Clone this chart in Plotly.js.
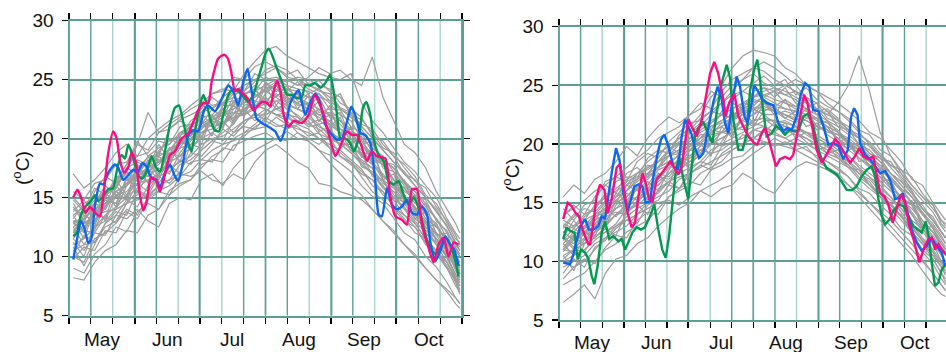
<!DOCTYPE html>
<html><head><meta charset="utf-8">
<script src="https://cdn.plot.ly/plotly-3.0.1.min.js"></script>
<style>html,body{margin:0;padding:0;background:#fff}#chart{width:946px;height:352px}</style>
</head><body><div id="chart"></div>
<script>
// x values are days counted from 1 May (0 = 1 May, 184 = 1 Nov)
const monthNames = ['May','Jun','Jul','Aug','Sep','Oct'];
const monthBounds = [0,31,61,92,123,153,184];
const yTicks = [5,10,15,20,25,30];

const greyDays = [2,7,12,17,22,27,32,37,42,47,52,57,62,67,72,77,82,87,92,97,102,107,112,117,122,127,132,137,142,147,152,157,162,167,172,177,181,183];

// left panel, grey years
const greyL1 = [15.5,14.8,16.2,16.5,17.8,18.0,19.5,19.0,20.5,21.2,21.8,22.5,23.0,23.8,24.0,25.2,25.0,26.1,26.5,26.0,25.4,25.8,24.6,24.9,24.0,23.5,22.0,21.6,20.5,19.2,18.8,17.5,16.4,15.8,14.2,13.0,11.8,11.0];
const greyL2 = [9.0,8.6,10.2,11.0,12.5,12.1,13.8,14.5,14.0,15.6,16.2,16.5,17.8,18.2,18.0,19.4,19.8,20.2,20.5,19.9,20.6,20.0,19.8,19.0,18.6,17.9,17.2,16.0,15.1,14.5,13.2,12.0,11.4,10.0,9.1,7.8,6.5,6.0];
const greyL3 = [13.0,11.5,14.0,13.2,16.0,15.0,17.8,16.2,18.5,17.6,20.0,19.0,21.5,20.2,22.6,21.4,23.5,22.2,24.5,22.8,24.0,22.5,23.6,21.4,22.8,20.2,21.0,18.4,19.2,16.5,17.0,14.6,15.2,12.4,12.8,10.2,10.0,8.5];
const greyL4 = [14.0,13.6,14.8,15.5,16.2,17.0,17.5,18.4,18.0,19.2,19.5,20.6,20.8,21.5,21.0,22.2,22.0,22.8,22.5,22.0,21.8,21.2,21.5,20.4,20.0,19.6,18.8,17.8,17.0,15.8,15.0,14.2,13.0,12.0,11.0,9.5,8.2,7.5];
const greyL5 = [10.5,11.0,11.2,12.5,13.0,14.5,14.8,15.2,16.0,16.5,17.8,18.2,19.0,19.8,20.5,21.2,22.5,23.5,24.2,24.8,25.0,24.5,24.6,24.0,23.8,22.6,22.2,21.0,20.1,19.0,18.0,17.2,16.0,15.0,13.8,12.6,11.0,10.5];
const greyL6 = [12.0,13.5,13.0,15.0,16.5,17.2,19.5,22.2,20.5,20.8,21.6,22.0,22.5,23.8,24.2,24.0,25.5,26.5,27.5,27.8,27.0,26.5,26.0,25.5,25.2,25.0,25.5,23.0,21.5,20.5,19.2,18.0,17.2,16.0,15.0,13.2,12.0,11.5];
const greyL7 = [10.0,9.5,11.5,12.0,12.8,14.0,13.5,15.0,15.6,16.0,16.8,18.0,18.2,19.0,19.5,19.8,20.2,21.0,21.5,21.0,21.2,20.8,20.5,20.0,19.5,19.0,18.2,17.4,16.0,15.5,14.2,13.5,12.5,11.0,10.2,9.0,7.5,7.0];
const greyL8 = [13.5,14.2,13.8,15.2,15.8,17.5,17.0,18.5,19.2,19.5,20.5,21.0,21.8,22.0,23.0,23.2,23.6,24.5,24.0,24.6,24.2,24.0,23.5,23.8,22.5,22.4,21.0,20.5,19.6,18.2,17.5,16.4,15.5,14.5,13.2,11.5,10.5,10.0];
const greyL9 = [11.5,10.5,12.0,11.8,13.5,13.2,14.0,13.0,12.5,14.5,15.0,14.8,16.5,17.0,16.0,17.5,18.5,19.0,19.5,20.0,19.8,20.5,20.0,19.5,20.2,18.5,18.0,16.8,15.5,14.8,14.0,13.0,12.5,11.2,10.5,9.0,8.0,7.2];
const greyL10 = [12.8,13.0,14.5,15.5,16.0,17.5,18.0,17.6,19.0,19.8,20.2,21.5,22.2,22.6,23.0,24.0,24.5,25.0,25.5,26.0,25.2,25.0,24.2,23.8,23.0,22.0,21.5,20.0,19.2,18.5,17.2,16.0,15.0,14.0,12.5,11.5,10.2,9.5];
const greyL11 = [12.0,12.2,12.0,13.5,14.2,15.0,15.8,16.5,16.2,17.5,18.0,18.5,19.5,20.0,20.2,20.8,21.5,21.8,22.5,22.0,22.2,21.5,21.8,21.0,20.5,20.0,19.0,18.2,17.5,16.2,15.5,14.5,13.2,12.5,11.0,10.0,8.5,8.0];
const greyL12 = [13.5,12.0,14.0,14.8,14.5,16.5,16.0,17.8,17.0,18.8,19.2,20.5,20.0,21.8,21.2,22.8,22.0,23.8,23.0,24.2,23.5,23.0,23.8,22.2,22.5,21.5,20.8,19.8,18.6,18.0,16.5,15.8,14.5,13.8,12.0,11.2,9.8,9.2];
const greyL13 = [11.0,11.5,12.5,13.0,14.0,14.5,15.5,15.0,16.0,16.5,17.0,16.8,17.2,16.5,16.2,17.0,16.5,18.0,19.0,19.5,18.8,18.0,17.5,16.2,16.0,15.5,15.2,14.8,14.0,13.0,12.2,11.0,10.2,9.0,8.0,7.2,6.5,6.0];
const greyL14 = [12.5,13.2,14.0,14.5,15.5,16.0,16.8,17.5,18.2,18.0,19.2,19.5,20.5,21.2,21.0,22.5,23.0,23.5,24.2,24.5,25.0,24.5,25.2,26.0,25.5,25.8,25.0,24.5,26.9,23.5,21.5,19.5,18.8,17.5,15.5,14.0,12.8,12.0];
const greyL15 = [8.2,8.0,9.5,10.5,11.0,12.2,12.0,13.5,14.0,15.2,16.0,16.5,17.5,18.5,19.0,20.0,20.5,21.2,22.0,22.5,22.0,21.8,21.2,20.8,20.0,19.5,18.8,18.0,17.0,16.0,15.0,14.0,12.8,11.5,10.5,9.2,7.8,6.8];
const greyL16 = [17.0,15.8,16.5,17.5,18.8,19.5,18.5,20.0,20.8,21.5,22.0,22.8,23.5,22.8,23.0,23.5,24.5,25.0,24.8,24.0,24.2,23.5,23.0,22.5,22.0,21.5,20.5,19.5,18.5,17.8,16.5,15.2,14.2,13.0,12.0,10.8,9.5,9.0];
const greyL17 = [12.2,13.0,12.8,14.2,15.2,15.5,16.5,17.2,18.0,18.5,19.5,20.0,21.0,21.5,22.2,22.5,23.0,23.6,24.0,23.5,22.8,22.5,22.2,21.8,21.2,20.5,19.5,18.5,17.8,16.8,16.0,15.2,14.0,13.0,11.8,10.5,9.0,8.5];
const greyL18 = [13.0,12.8,13.5,14.5,15.0,16.2,17.0,17.5,18.0,19.0,19.5,20.5,21.0,21.6,22.0,22.2,22.5,22.8,22.5,22.0,21.5,20.5,19.8,19.0,18.0,17.0,16.0,15.2,14.0,13.0,12.0,11.0,10.0,9.0,8.0,7.0,6.0,5.6];
const greyL19 = [14.5,13.0,14.5,14.0,15.5,16.2,17.2,18.0,18.5,19.0,20.2,21.0,21.2,21.8,22.5,23.0,23.8,24.0,24.5,25.0,24.5,24.2,24.0,23.5,23.2,22.5,21.8,21.0,20.0,19.0,18.0,17.0,16.0,15.0,14.0,12.5,11.2,10.8];
const greyL20 = [11.8,12.5,13.5,14.8,14.5,15.2,16.2,16.5,17.0,18.0,18.5,19.2,20.0,20.5,21.2,21.8,22.0,22.5,23.0,23.2,23.5,23.0,22.5,22.0,21.5,20.8,20.0,19.0,18.0,17.0,16.0,15.0,14.0,12.8,11.5,10.5,9.0,8.5];
const greyL21 = [12.0,13.8,12.5,15.5,14.2,16.8,15.5,18.0,16.8,19.2,18.0,20.8,19.5,22.0,20.8,23.2,21.8,24.2,22.8,24.5,23.0,24.0,22.2,23.2,21.0,21.8,19.5,20.2,17.8,18.5,16.0,16.5,14.0,14.5,11.8,12.0,9.8,9.2];
const greyL22 = [14.2,12.8,13.0,14.2,16.5,15.2,16.8,18.2,17.2,18.0,20.2,19.0,21.5,21.0,22.5,21.6,23.5,22.5,23.8,24.6,23.2,23.8,21.8,22.5,21.2,20.5,20.8,18.6,18.8,16.8,16.2,15.2,13.2,13.8,11.2,10.5,8.8,8.2];
const greyL23 = [10.2,11.8,11.2,12.8,13.8,13.5,15.6,15.2,16.8,16.2,17.2,18.8,18.5,19.5,20.8,20.2,21.2,22.2,21.5,22.8,22.0,21.2,22.4,20.6,21.0,19.2,19.8,17.6,17.2,16.4,15.0,14.6,13.5,12.2,11.5,9.8,8.5,7.8];
const greyL24 = [13.2,14.5,15.0,14.0,15.8,17.2,16.0,17.5,19.5,18.2,19.8,20.2,22.0,21.2,21.8,23.5,22.5,23.0,24.8,23.5,24.5,23.2,22.8,23.5,21.8,22.2,20.0,19.5,19.8,17.5,17.2,15.5,15.0,13.5,12.8,11.0,10.0,9.2];
const greyL25 = [11.2,10.0,12.5,13.5,12.8,14.5,16.2,15.5,17.0,17.8,17.0,19.5,19.2,20.5,19.8,21.5,22.5,21.5,22.2,23.2,22.5,22.0,21.2,21.6,20.8,19.8,19.2,18.8,16.8,16.5,15.2,14.0,13.8,12.0,11.2,10.2,8.2,7.5];
const greyL26 = [12.8,12.2,14.2,13.0,15.2,14.8,16.8,17.5,16.5,18.5,19.8,19.2,20.2,21.8,22.2,21.2,22.8,23.2,22.8,23.6,24.0,22.8,23.0,22.0,22.2,20.8,20.5,19.5,18.2,17.8,16.5,15.8,14.8,13.2,12.5,11.5,10.0,9.5];
const greyL27 = [14.8,13.8,14.5,16.0,15.2,16.0,18.2,17.8,18.8,18.5,20.5,20.2,21.2,22.5,21.8,22.8,23.8,24.2,23.2,23.8,23.0,23.5,22.8,21.5,22.0,21.2,20.2,20.5,18.8,18.0,17.8,16.2,15.2,14.8,13.0,12.2,10.8,10.0];
const greyL28 = [9.8,10.8,10.5,12.2,12.0,13.8,13.2,14.8,15.5,15.2,16.8,17.2,18.2,18.0,19.2,19.0,20.5,20.8,21.0,21.8,21.2,21.0,20.2,20.5,19.2,18.8,18.0,17.2,16.5,15.2,14.8,13.5,12.8,11.5,10.5,9.5,8.0,7.0];
const greyL29 = [13.8,14.8,13.5,15.0,16.8,16.5,17.2,16.8,18.8,20.0,19.5,21.2,21.5,21.0,22.8,22.8,22.2,24.0,25.2,24.8,24.0,24.8,23.8,24.2,23.2,23.8,22.0,21.2,20.8,19.5,18.5,17.8,16.8,15.2,14.5,12.8,11.5,11.2];
const greyL30 = [11.5,12.8,13.5,13.8,14.0,16.0,17.0,16.8,17.5,17.0,18.8,20.0,20.5,20.8,21.5,20.5,21.5,22.0,22.0,22.5,22.8,21.8,21.0,21.2,20.2,19.5,19.5,18.0,17.5,15.8,15.5,14.8,13.8,12.5,11.5,10.8,9.2,8.8];
const greyL31 = [12.5,11.0,12.2,14.5,15.5,14.8,15.2,17.2,17.8,18.8,18.5,19.8,20.8,21.8,21.2,22.0,23.8,22.8,23.5,22.5,23.0,22.5,22.0,21.2,21.5,20.5,19.0,18.8,18.0,16.5,15.8,14.8,14.2,12.8,11.5,10.0,9.2,8.8];
const greyL32 = [15.0,14.0,15.8,15.2,16.5,17.8,18.5,18.8,19.8,19.5,21.0,21.2,22.2,23.5,22.8,23.8,24.0,25.5,25.0,25.2,24.8,25.2,25.0,24.5,24.2,23.0,22.5,21.8,20.2,19.8,18.5,17.0,16.5,15.0,13.8,12.5,11.2,10.5];
const greyL33 = [10.8,9.2,11.0,12.8,13.5,14.8,14.2,16.0,16.8,17.2,18.2,17.8,19.0,19.8,19.5,20.5,21.0,20.8,21.8,21.2,20.8,21.2,20.8,20.0,19.2,18.5,17.8,17.0,16.5,15.5,14.2,13.2,12.0,11.5,10.2,9.5,8.2,7.8];
const greyL34 = [13.0,13.2,15.5,16.8,16.2,17.8,19.8,18.5,18.5,20.8,21.5,20.8,22.8,22.5,23.5,24.2,24.0,24.8,25.8,26.2,25.8,25.0,24.5,24.2,23.5,22.5,22.0,20.8,19.5,18.2,17.5,16.2,15.5,14.2,13.2,12.0,10.8,10.2];

// right panel, grey years
const greyR1 = [15.5,16.5,15.8,17.0,17.5,18.5,19.8,19.0,20.5,21.5,22.3,21.8,22.5,23.0,24.5,24.0,25.0,25.5,26.0,25.2,24.8,24.5,24.0,23.5,23.0,22.5,22.0,21.2,20.0,19.5,18.5,17.5,16.5,15.5,14.0,13.0,12.0,11.5];
const greyR2 = [6.5,7.2,8.0,6.8,9.0,10.2,10.5,11.5,12.0,13.0,13.8,14.5,15.0,16.0,16.5,17.0,17.8,18.5,19.2,19.8,20.5,20.0,20.5,20.0,19.5,19.0,18.5,18.0,17.0,16.2,15.5,14.5,13.5,12.5,11.0,10.2,9.0,8.5];
const greyR3 = [12.0,11.5,13.0,14.0,14.5,15.2,16.0,17.5,18.0,18.5,19.5,20.5,21.5,22.5,24.0,25.0,26.5,27.5,28.0,27.8,27.5,26.5,26.0,25.0,24.5,23.5,22.8,22.0,21.0,20.0,19.0,18.0,17.0,16.0,14.5,13.5,12.5,12.0];
const greyR4 = [11.0,12.0,12.5,13.5,14.0,15.0,15.5,16.5,17.0,18.0,18.5,19.0,19.5,20.5,21.0,21.5,22.0,22.5,23.0,23.2,22.8,22.5,22.0,22.5,23.0,22.5,23.5,25.0,27.5,24.5,21.0,19.0,17.5,16.0,14.5,13.5,12.5,12.0];
const greyR5 = [10.0,10.5,11.0,11.8,12.5,13.0,13.5,14.0,14.5,15.0,15.2,14.8,15.5,16.0,15.5,16.2,16.5,17.5,17.0,16.2,15.8,17.0,18.0,18.5,18.2,17.8,17.2,16.5,15.8,15.0,14.2,13.5,12.5,11.5,10.2,9.0,8.0,7.5];
const greyR6 = [12.5,11.8,13.0,13.5,14.8,15.0,16.5,16.0,17.5,18.0,19.0,19.2,20.0,20.5,21.5,22.0,22.5,23.0,23.5,24.0,23.5,23.0,22.8,22.5,22.0,21.5,21.0,20.0,19.5,18.5,17.8,17.0,16.0,15.0,13.5,12.5,11.5,11.0];
const greyR7 = [9.5,10.0,10.5,11.5,12.0,13.0,13.8,14.5,15.0,16.0,16.8,17.5,18.0,18.5,19.5,20.0,20.5,21.0,21.5,22.0,22.0,21.8,21.5,21.0,20.8,20.2,19.5,19.0,18.0,17.2,16.5,15.5,14.2,13.0,11.8,10.5,9.5,9.0];
const greyR8 = [14.0,14.5,15.2,16.0,16.5,17.2,18.0,18.8,19.5,20.5,21.0,21.5,22.5,23.5,23.0,24.5,25.5,26.0,26.5,26.2,25.5,25.0,24.5,24.0,23.5,22.8,22.0,21.5,20.5,19.8,19.0,18.2,17.5,16.5,15.5,14.5,13.5,13.0];
const greyR9 = [11.0,12.0,11.5,12.5,13.2,14.0,14.5,15.5,16.0,16.5,17.5,18.0,19.0,19.5,20.0,21.0,21.2,22.0,22.5,23.0,22.8,22.5,22.0,22.5,21.5,21.0,20.8,20.0,19.2,18.2,17.5,16.5,15.5,14.0,12.8,11.8,10.5,10.0];
const greyR10 = [13.0,12.5,13.5,14.0,15.0,15.5,16.0,17.0,18.0,18.5,19.0,20.0,20.5,21.5,22.0,22.5,23.0,23.5,24.0,24.5,24.8,24.2,23.8,23.0,22.5,22.0,21.5,20.8,20.0,19.2,18.5,17.5,16.8,15.8,14.8,13.5,12.5,12.0];
const greyR11 = [12.0,11.0,12.0,13.0,13.5,14.5,15.0,15.5,16.5,17.0,18.0,18.5,18.8,19.5,20.0,20.5,21.0,21.5,21.8,21.5,21.0,20.5,20.0,19.5,19.0,18.5,18.0,17.2,16.0,15.0,14.0,13.0,12.0,11.0,10.0,9.0,8.0,7.5];
const greyR12 = [11.5,12.5,12.2,13.2,14.2,15.0,15.5,16.5,17.2,18.0,18.5,18.2,19.5,20.0,21.0,21.5,22.0,22.8,23.0,22.5,22.5,22.8,22.5,22.0,21.5,21.2,20.5,19.8,19.2,18.5,17.5,16.5,15.5,14.2,13.0,12.0,11.0,10.5];
const greyR13 = [13.5,13.0,14.0,14.5,15.5,16.0,16.5,17.5,17.8,18.5,19.5,20.0,20.5,21.0,21.5,22.0,22.5,23.0,23.5,24.0,24.5,25.0,25.5,25.0,24.5,24.0,23.5,22.8,22.0,21.0,20.5,19.5,18.5,17.0,16.5,15.0,14.0,13.5];
const greyR14 = [8.0,8.5,9.0,10.0,11.0,11.5,12.5,13.0,13.5,14.5,15.5,16.0,16.5,17.5,18.0,18.5,19.5,20.0,20.5,21.0,21.2,21.5,21.0,20.5,20.0,19.5,19.0,18.2,17.5,16.5,15.5,14.8,13.8,12.5,11.5,10.5,9.5,9.0];
const greyR15 = [10.5,11.0,11.5,12.5,13.0,14.0,14.8,15.0,16.2,16.5,17.5,18.5,19.0,19.8,20.5,21.0,22.0,22.5,23.0,23.5,23.0,22.5,22.2,22.0,21.5,21.2,20.5,19.5,18.8,18.0,17.2,16.2,15.0,14.0,12.5,11.5,10.0,9.5];
const greyR16 = [12.5,13.0,13.5,13.0,14.0,15.5,16.5,17.0,17.5,18.0,19.0,19.5,19.8,20.5,21.5,21.8,22.0,23.0,23.0,22.5,21.8,22.0,21.5,21.0,20.5,20.0,19.8,19.0,18.2,17.5,16.8,16.0,15.2,14.5,13.5,12.5,11.5,11.0];
const greyR17 = [10.0,9.5,10.0,11.0,12.0,12.5,13.0,14.0,15.0,15.5,16.0,17.0,17.5,18.0,18.5,19.0,19.5,20.0,20.5,20.2,20.0,19.8,19.5,19.0,18.5,18.0,17.5,16.5,15.5,14.5,13.5,12.5,11.5,10.5,9.2,8.0,7.2,7.0];
const greyR18 = [11.8,12.2,12.8,13.8,14.5,15.2,16.0,16.8,17.5,18.5,19.0,19.5,20.5,21.5,22.5,23.5,24.5,25.5,26.5,27.0,26.5,25.8,25.0,24.0,23.0,22.0,21.0,20.2,19.5,18.8,18.0,17.0,16.0,15.0,14.0,12.8,11.5,11.0];
const greyR19 = [13.0,14.0,13.5,14.8,15.5,16.2,17.0,17.5,18.5,19.2,19.8,20.5,21.0,21.5,21.8,22.5,23.0,23.5,24.0,24.2,23.8,23.5,23.0,22.5,22.2,21.5,21.0,20.5,19.8,19.0,18.2,17.5,16.5,15.5,14.5,13.5,12.5,12.0];
const greyR20 = [11.0,10.8,12.5,12.0,13.0,14.0,14.2,15.0,16.0,16.8,17.5,18.0,18.5,19.0,20.0,20.5,21.0,21.5,22.0,22.2,22.0,21.5,21.2,21.0,20.5,20.0,19.2,18.5,17.5,17.0,16.0,15.2,14.5,13.2,12.0,11.0,10.0,9.5];
const greyR21 = [12.0,13.5,12.2,14.0,13.2,15.2,14.2,16.5,15.2,17.5,16.5,18.8,17.8,20.0,19.0,21.5,20.5,22.8,21.8,23.5,22.5,23.8,22.2,23.0,21.5,22.0,20.2,20.5,18.5,18.8,16.8,17.0,15.0,15.2,12.8,13.0,11.0,10.5];
const greyR22 = [10.5,9.2,11.5,12.0,12.8,12.2,14.2,14.8,14.0,16.2,16.8,16.2,17.8,18.5,18.2,19.8,20.2,19.8,21.2,21.5,21.0,21.8,20.5,21.0,20.2,19.2,19.5,18.2,17.5,16.8,15.5,15.0,13.8,13.0,11.8,10.8,9.5,8.8];
const greyR23 = [13.8,14.8,14.0,15.5,16.5,15.8,17.5,18.0,17.2,19.2,19.8,19.2,21.0,21.8,21.2,22.8,23.5,23.0,24.5,24.8,24.0,24.8,23.5,23.0,23.5,22.2,21.8,21.0,20.5,19.2,18.8,17.5,16.8,15.8,14.5,13.8,12.5,12.0];
const greyR24 = [11.2,12.2,11.8,12.8,14.5,13.8,15.0,16.2,16.8,16.0,17.8,18.8,18.2,19.2,20.5,19.8,21.5,22.0,21.5,22.8,23.2,22.2,21.8,22.5,21.2,21.5,20.2,19.5,19.8,18.0,17.2,16.8,15.2,14.8,13.2,12.2,11.0,10.5];
const greyR25 = [9.0,10.2,9.5,11.2,11.8,12.8,13.5,13.2,14.8,15.2,16.5,16.2,17.5,18.2,17.8,19.2,19.8,20.8,20.5,21.2,20.8,20.5,21.0,20.2,19.5,19.8,18.8,18.0,17.8,16.5,15.8,14.5,14.0,12.5,11.5,10.2,9.0,8.2];
const greyR26 = [14.5,13.5,14.8,15.2,16.8,17.2,16.8,18.5,19.2,18.8,20.2,21.0,21.8,22.0,22.8,23.5,24.2,24.5,25.2,25.8,25.0,25.5,24.2,24.8,23.8,23.2,22.8,22.2,21.2,20.8,19.5,19.0,17.8,17.2,15.8,14.8,13.5,13.2];
const greyR27 = [12.2,11.2,12.8,13.2,13.0,14.8,15.8,15.2,16.2,17.5,17.2,18.2,19.5,19.2,20.8,21.0,20.8,22.2,22.5,23.5,22.8,22.2,22.8,21.5,21.8,20.8,20.2,20.0,18.8,18.2,17.8,16.2,15.5,14.8,13.2,12.5,11.2,10.8];
const greyR28 = [10.8,11.8,12.5,12.2,13.8,14.2,14.0,15.2,15.8,17.2,17.0,17.8,18.5,19.5,19.2,20.2,21.5,21.2,22.0,22.2,21.5,21.0,21.5,20.8,20.2,19.8,19.2,18.5,17.8,17.2,16.2,15.5,14.5,13.5,12.8,11.5,10.5,10.0];
const greyR29 = [13.2,12.8,13.8,14.5,15.8,15.5,16.8,17.2,18.2,18.0,19.5,20.2,20.2,21.2,21.8,22.5,22.2,23.5,23.2,24.2,24.5,23.5,23.2,23.8,22.5,22.8,21.5,21.2,20.5,19.8,18.8,18.5,17.2,16.2,15.2,14.2,13.0,12.5];
const greyR30 = [8.5,9.5,10.2,9.8,11.2,12.2,12.0,13.5,14.2,14.0,15.5,16.2,16.8,16.5,17.8,18.2,18.8,19.0,19.8,20.2,19.8,20.2,19.5,19.8,18.8,18.5,17.8,17.2,16.2,15.8,14.8,14.0,12.8,12.2,10.8,9.8,8.5,8.0];
const greyR31 = [11.8,12.8,12.2,13.8,14.2,15.8,15.2,16.2,17.5,17.2,18.2,19.2,19.8,20.2,21.2,21.0,22.2,22.8,22.8,23.8,23.2,23.0,22.8,22.2,22.2,21.2,20.8,20.2,19.5,18.5,17.8,17.2,16.2,15.0,14.2,12.8,11.8,11.2];
const greyR32 = [12.8,13.8,14.5,14.2,15.2,16.8,17.2,17.0,18.8,19.5,19.2,20.8,21.2,22.2,22.8,22.5,23.8,24.5,24.0,24.8,24.5,24.2,24.5,23.5,22.8,23.0,22.2,21.2,20.8,20.2,19.2,18.2,17.8,16.5,15.5,14.8,13.2,12.8];
const greyR33 = [10.2,11.0,10.8,12.2,12.5,13.2,14.5,14.8,15.5,15.8,16.8,17.2,17.5,18.2,19.2,19.5,20.2,20.5,21.2,21.0,21.8,21.2,20.8,20.5,19.8,19.2,18.8,18.2,17.2,16.5,15.8,14.8,13.8,12.8,11.8,10.8,9.8,9.2];
const greyR34 = [11.5,10.5,11.8,12.5,14.0,14.5,15.5,16.2,16.5,17.8,18.2,18.5,19.8,20.8,20.8,21.8,22.2,23.2,23.8,23.5,23.2,23.8,23.2,22.8,22.2,21.8,21.2,20.2,19.8,18.8,18.2,17.2,16.2,15.5,14.2,13.2,12.2,11.5];

// highlighted years, left panel
const pinkLDays = [2,3.9,5.5,7.8,9.8,12.2,14.5,16,18.4,20.7,22.3,23.9,25.9,27.8,29.3,31.2,33.2,34.8,36.3,38.4,40.6,42.6,44.9,47.3,49.6,52.7,55.9,58.2,60.5,62.9,65.2,66.8,69.9,72.7,74.3,75.8,77.7,79.3,81.6,83.9,86.3,88.6,90.4,92.7,94.3,95.8,97.4,99,100.5,102.8,105.2,109.1,112.2,115,116.9,119.2,122.3,124.7,127,130.1,132.5,134.8,137.2,139.5,141.8,144.2,148.1,150.4,152.8,155.9,158.2,160.6,162.9,165.2,168.4,170.7,173,175.4,177.7,180.1,182.4];
const pinkLVals = [15.0,15.66,15.1,13.7,14.2,13.7,13.4,15.0,18.8,20.6,20.0,18.1,17.1,17.6,18.8,18.1,15.2,13.9,14.6,16.7,16.5,15.5,16.9,18.6,18.9,20.0,20.45,21.4,22.4,23.0,23.0,24.8,26.8,27.1,26.8,25.8,24.0,24.2,23.8,23.3,22.4,22.8,23.1,23.0,22.7,24.0,24.9,24.0,22.0,21.0,21.5,21.3,22.0,23.7,23.1,22.0,19.9,18.5,19.3,20.6,20.3,20.3,19.2,18.1,18.9,18.5,18.3,15.1,13.4,13.1,12.7,15.7,15.7,12.7,10.7,9.5,11.0,11.6,10.0,11.2,11.0];
const blueLDays = [2,3.6,5.6,7.2,9,10.3,12.2,14.5,16,18.4,21.5,23.1,25.4,27.8,30.1,32.1,34.3,36.3,38.7,41,42.6,44.9,47.3,49.3,51.2,53.5,55.9,58.2,60.5,63.3,65.2,68.3,71.4,74.6,76.9,79.2,81.6,83.6,85.5,87.8,90.4,94.3,96.6,99,101.3,103.6,106,107.5,109.1,110.6,113,115.3,117.7,120,122.3,125.5,127.8,130.1,132.2,134,136.4,138.7,141.1,143.4,145,146.5,148.9,151.2,153.5,155.9,158.2,160.6,162.9,165.2,167.6,169.1,171.5,173.8,176.2,178.5,180.1,182.4];
const blueLVals = [9.75,11.3,13.0,12.4,11.15,11.4,14.4,16.2,16.1,17.1,17.8,17.5,16.5,16.9,17.35,17.1,17.9,17.6,16.6,16.5,15.8,17.1,17.8,16.9,16.4,18.1,20.3,20.7,20.6,22.4,22.8,22.3,23.3,24.5,24.0,22.8,24.8,25.9,24.0,21.7,21.3,20.9,20.6,19.8,20.9,23.0,23.8,24.1,23.0,22.0,23.1,23.8,23.0,21.2,20.5,19.9,20.0,21.4,22.7,22.0,20.45,20.3,19.6,16.4,13.55,13.4,15.8,14.4,14.0,14.25,14.8,13.7,13.55,14.25,13.55,11.3,9.6,10.45,11.7,11.0,10.7,9.2];
const greenLDays = [2,3.6,5.6,7.8,10.3,12.2,13.7,16,18.4,20.7,22.3,24.6,26.2,27.8,30.1,32.4,34.3,36.3,38.7,40.6,42.6,44.9,47.3,49.6,51.5,53.5,55.9,57.4,59,61.3,62.9,64.4,66,68.3,70.2,72.2,74.6,76.9,79.2,81.6,83.9,86.3,88.6,90.4,92,93.5,95,97.4,99.7,102.1,104.4,106.7,109.1,110.6,113,115.3,117.7,120,122.3,123.9,125.5,127,129.4,131.7,133.3,135.6,137.6,139.2,141.1,142.6,145,147.3,149.6,152,154.3,156.7,159,161.4,163.7,166.8,169.1,171.5,173.8,176.2,178.5,180.9,182.4];
const greenLVals = [11.7,12.0,13.55,14.25,14.7,15.2,14.7,15.1,15.7,15.8,17.2,18.6,18.3,19.5,18.3,16.9,16.6,17.2,18.5,17.6,17.2,18.9,21.2,22.6,22.8,21.4,19.5,18.9,20.6,22.85,23.7,23.0,21.7,20.7,20.6,22.0,23.7,24.25,24.0,23.55,23.1,23.7,25.1,26.2,27.2,27.6,27.1,25.9,24.8,23.7,23.7,23.4,23.55,24.5,24.5,24.7,24.3,24.7,25.4,24.0,22.0,20.0,20.0,19.6,18.9,20.0,22.6,23.1,22.0,20.0,18.6,18.1,16.4,16.1,16.4,15.2,14.4,15.0,14.1,11.9,10.7,10.2,10.7,11.6,11.0,9.6,8.3];

// highlighted years, right panel
const pinkRDays = [2,4.1,6,7.9,9.5,10.7,12.3,13.9,14.7,16.3,17.8,19.4,21.5,23,24.9,27.3,28.9,30.5,32.5,34.4,36,37.6,39.5,41,42.6,44.2,46.2,48.6,51,52.6,54.1,56.5,58.1,59.7,61.2,62.8,65.2,67.6,70,71.5,73.5,75.4,77.8,78.9,80.5,83,84.9,87.3,89.6,92.3,93.9,95.9,97.5,99.1,100.7,102.7,104.6,107,109.4,110.9,112.5,114.1,116,117.6,119.6,122,124.4,126.7,129.1,130.7,132.3,134.6,137.8,140.1,142.2,144.1,146.5,148.8,150.4,152,154,155.9,158,159.9,161.8,163.8,165.9,167.8,169.4,170.6,172.5,174.9,176.4,178,179.6,181.2,183.2];
const pinkRVals = [13.6,15.0,14.7,14.1,13.85,13.0,12.15,11.45,11.45,13.3,15.55,16.55,16.1,14.1,15.3,18.0,18.3,16.4,14.1,12.9,13.3,15.55,17.5,16.7,15.3,15.1,17.0,17.5,18.1,18.5,18.1,17.4,18.1,20.4,22.1,21.5,20.65,22.1,24.6,26.0,27.0,26.0,23.8,22.35,23.5,24.3,22.35,21.5,20.65,20.1,19.95,20.9,21.4,20.5,19.4,18.1,18.7,18.9,18.7,19.1,20.65,22.35,24.2,23.5,21.8,19.5,18.4,19.1,19.8,20.4,20.1,19.4,18.4,18.95,19.65,18.95,18.7,18.95,17.4,15.8,15.55,14.85,13.3,14.4,15.7,15.1,13.0,11.9,10.75,9.9,11.0,11.9,12.0,11.0,11.45,11.0,10.6];
const blueRDays = [2,5.2,6.8,8.4,9.9,12.3,14.2,16.3,18.6,20.2,21.8,23,24.9,27,28.6,30.5,32.5,34.1,35.7,37.6,39.5,41,43.1,44.7,46.7,48.3,49.9,51.8,54.1,56.2,58.1,59.7,61.6,62.8,64.4,66.3,68.3,70.7,73.1,75.1,77,78.6,80.2,81.7,84.1,85.7,87.8,89.3,91.2,92.3,93.9,95.9,98.3,101.5,103.8,106.2,108.1,110.2,112.5,114.4,116.5,118.5,120.4,122.8,125.2,127.5,129.9,132.3,134.6,136.7,138.3,139.7,141.3,142.5,144.9,147.2,149.6,152,154.4,156.7,159.1,160.7,162.7,164.6,167,169.3,171.7,174.1,176.4,178.8,181.2,182.8];
const blueRVals = [9.9,9.75,10.6,11.9,12.9,13.6,12.7,12.7,13.0,13.85,13.6,15.1,17.5,19.65,18.65,15.8,14.3,15.3,16.4,16.55,16.4,15.0,15.1,17.25,19.2,20.4,20.8,19.8,18.1,17.8,20.65,22.1,21.35,20.8,19.65,18.8,19.2,21.5,23.6,24.9,23.8,21.8,20.9,23.2,25.75,24.9,22.35,21.8,23.5,25.0,24.6,23.9,23.5,23.3,21.8,21.1,21.35,21.2,22.35,24.2,25.2,24.9,22.9,22.8,21.5,19.95,20.1,19.8,18.7,19.5,22.35,23.05,22.5,20.1,19.1,18.7,18.1,17.5,17.7,16.95,15.3,15.4,15.8,14.4,12.7,11.6,10.9,11.3,12.0,11.3,10.75,9.6];
const greenRDays = [2,3.6,5.2,7.3,8.8,10.4,12.3,13.9,15.5,16.7,18.3,20.2,21.8,23.8,25.7,28.1,29.7,31.3,32.8,34.7,36.8,38.8,40.7,43.1,45.1,47,48.9,50.5,52.1,53.7,55.2,56.8,58.9,61.2,62.8,64.4,65.9,68.3,70.7,72.6,74.6,77,79.4,81,82.5,84.9,86.9,88.9,90.4,92.3,93.9,95.2,96.4,98.3,100.7,102.7,105,107,109.1,110.9,113.3,115.7,118,120.4,122.8,124.4,126.7,129.1,131.5,133.8,136.2,138.6,140.9,143.3,145.7,148,149.6,151.2,152.8,154.4,156.4,158.3,160.7,163,165.4,167.8,170.1,171.7,173.6,175.2,176.4,178,179.6,181.2,183.2];
const greenRVals = [11.9,12.9,12.6,12.45,10.2,11.0,10.75,10.2,8.75,8.05,9.6,12.45,13.4,11.9,12.15,11.7,11.9,11.0,11.6,12.45,12.9,12.7,12.9,13.85,14.85,12.7,11.0,10.3,12.15,14.7,17.5,18.95,17.0,15.3,17.8,20.65,21.35,21.9,20.8,20.1,22.6,25.2,26.75,25.6,22.1,19.5,19.5,20.9,24.5,26.3,27.2,25.5,23.2,20.65,20.9,21.55,21.2,20.8,21.2,21.1,21.1,22.35,22.6,21.5,19.5,18.7,17.95,17.7,17.4,16.8,16.1,16.05,16.4,17.25,17.8,18.1,17.25,15.3,13.85,13.15,13.55,14.3,14.85,14.7,13.85,13.0,12.7,12.45,13.4,11.9,9.9,7.9,8.2,9.3,9.8];

const greyLeft = [greyL1,greyL2,greyL3,greyL4,greyL5,greyL6,greyL7,greyL8,greyL9,greyL10,greyL11,greyL12,greyL13,greyL14,greyL15,greyL16,greyL17,greyL18,greyL19,greyL20,greyL21,greyL22,greyL23,greyL24,greyL25,greyL26,greyL27,greyL28,greyL29,greyL30,greyL31,greyL32,greyL33,greyL34];
const greyRight = [greyR1,greyR2,greyR3,greyR4,greyR5,greyR6,greyR7,greyR8,greyR9,greyR10,greyR11,greyR12,greyR13,greyR14,greyR15,greyR16,greyR17,greyR18,greyR19,greyR20,greyR21,greyR22,greyR23,greyR24,greyR25,greyR26,greyR27,greyR28,greyR29,greyR30,greyR31,greyR32,greyR33,greyR34];

const PINK = '#ff0a82', BLUE = '#0d66f2', GREEN = '#009950', GREY = '#9c9c9c';
const GRID_DARK = '#5b9f95', GRID_LIGHT = '#a9d4cd';
const FONT = {family: 'Liberation Sans, Arial, sans-serif', size: 19, color: '#111'};

// regular tick grid: 18 equal steps over May-Oct
const gridTicks = [];
for (let i = 0; i <= 18; i++) gridTicks.push(i * 184 / 18);
const lightIdx = [2,5,7,11,14,17];
const monthMids = monthNames.map((m, i) => (monthBounds[i] + monthBounds[i+1]) / 2);
const allTicks = gridTicks.concat(monthBounds);

const traces = [];
function addPanel(greys, xa, ya, colored, shape) {
  greys.forEach(g => traces.push({x: greyDays, y: g, xaxis: xa, yaxis: ya, type: 'scatter', mode: 'lines',
    line: {color: GREY, width: 1.2}, hoverinfo: 'skip', showlegend: false}));
  colored.forEach(c => traces.push({x: c[0], y: c[1], xaxis: xa, yaxis: ya, type: 'scatter', mode: 'lines',
    line: {color: c[2], width: 2.4, shape: shape, smoothing: 0.6}, hoverinfo: 'skip', showlegend: false}));
}
addPanel(greyLeft, 'x', 'y', [[greenLDays, greenLVals, GREEN], [blueLDays, blueLVals, BLUE], [pinkLDays, pinkLVals, PINK]], 'spline');
addPanel(greyRight, 'x2', 'y2', [[greenRDays, greenRVals, GREEN], [blueRDays, blueRVals, BLUE], [pinkRDays, pinkRVals, PINK]], 'linear');

const shapes = [];
[['x','y'],['x2','y2']].forEach(([xa, ya]) => {
  gridTicks.forEach((v, i) => shapes.push({type: 'line', xref: xa, yref: ya + ' domain', x0: v, x1: v, y0: 0, y1: 1,
    layer: 'below', line: {color: lightIdx.includes(i) ? GRID_LIGHT : GRID_DARK, width: 1.4}}));
  monthBounds.forEach(v => shapes.push({type: 'line', xref: xa, yref: ya + ' domain', x0: v, x1: v, y0: 0, y1: 1,
    layer: 'below', line: {color: GRID_DARK, width: 1.4}}));
});

function xAxis(domain, range, anchor) {
  return {domain: domain, range: range, anchor: anchor, tickvals: allTicks, showticklabels: false,
    ticks: 'outside', ticklen: 6, tickwidth: 1.2, tickcolor: '#000', mirror: 'ticks',
    showline: true, linecolor: GRID_DARK, linewidth: 2,
    showgrid: false, zeroline: false, fixedrange: true};
}
function yAxis(domain, anchor) {
  return {domain: domain, range: [5, 30], anchor: anchor, tickvals: yTicks, ticks: 'outside', ticklen: 6,
    tickwidth: 1.2, tickcolor: '#000', mirror: 'ticks', showline: true, linecolor: GRID_DARK, linewidth: 1.5,
    showgrid: true, gridcolor: GRID_DARK, gridwidth: 2,
    zeroline: false, tickfont: FONT, ticklabelstandoff: 4, fixedrange: true};
}

const W = 946, H = 352;
const annotations = [
  {text: '(<sup>o</sup>C)', xref: 'paper', yref: 'paper', x: 21/W, y: 1 - 168/H, textangle: -90,
   showarrow: false, font: FONT, xanchor: 'center', yanchor: 'middle'},
  {text: '(<sup>o</sup>C)', xref: 'paper', yref: 'paper', x: 511/W, y: 1 - 175/H, textangle: -90,
   showarrow: false, font: FONT, xanchor: 'center', yanchor: 'middle'}
];
monthNames.forEach((m, i) => {
  annotations.push({text: m, xref: 'x', yref: 'paper', x: monthMids[i], y: 1 - 339/H,
    showarrow: false, font: FONT, xanchor: 'center', yanchor: 'middle'});
  annotations.push({text: m, xref: 'x2', yref: 'paper', x: monthMids[i], y: 1 - 342/H,
    showarrow: false, font: FONT, xanchor: 'center', yanchor: 'middle'});
});

const layout = {
  width: W, height: H, margin: {l: 0, r: 0, t: 0, b: 0}, paper_bgcolor: '#fff', plot_bgcolor: '#fff',
  showlegend: false, font: FONT,
  xaxis: xAxis([69/W, 462/W], [0, 184], 'y'),
  xaxis2: xAxis([559/W, 1], [0, 183.2], 'y2'),
  yaxis: yAxis([1 - 315.5/H, 1 - 20.5/H], 'x'),
  yaxis2: yAxis([1 - 320/H, 1 - 26.7/H], 'x2'),
  shapes: shapes,
  annotations: annotations
};
Plotly.newPlot('chart', traces, layout, {displayModeBar: false, staticPlot: true});
</script></body></html>
